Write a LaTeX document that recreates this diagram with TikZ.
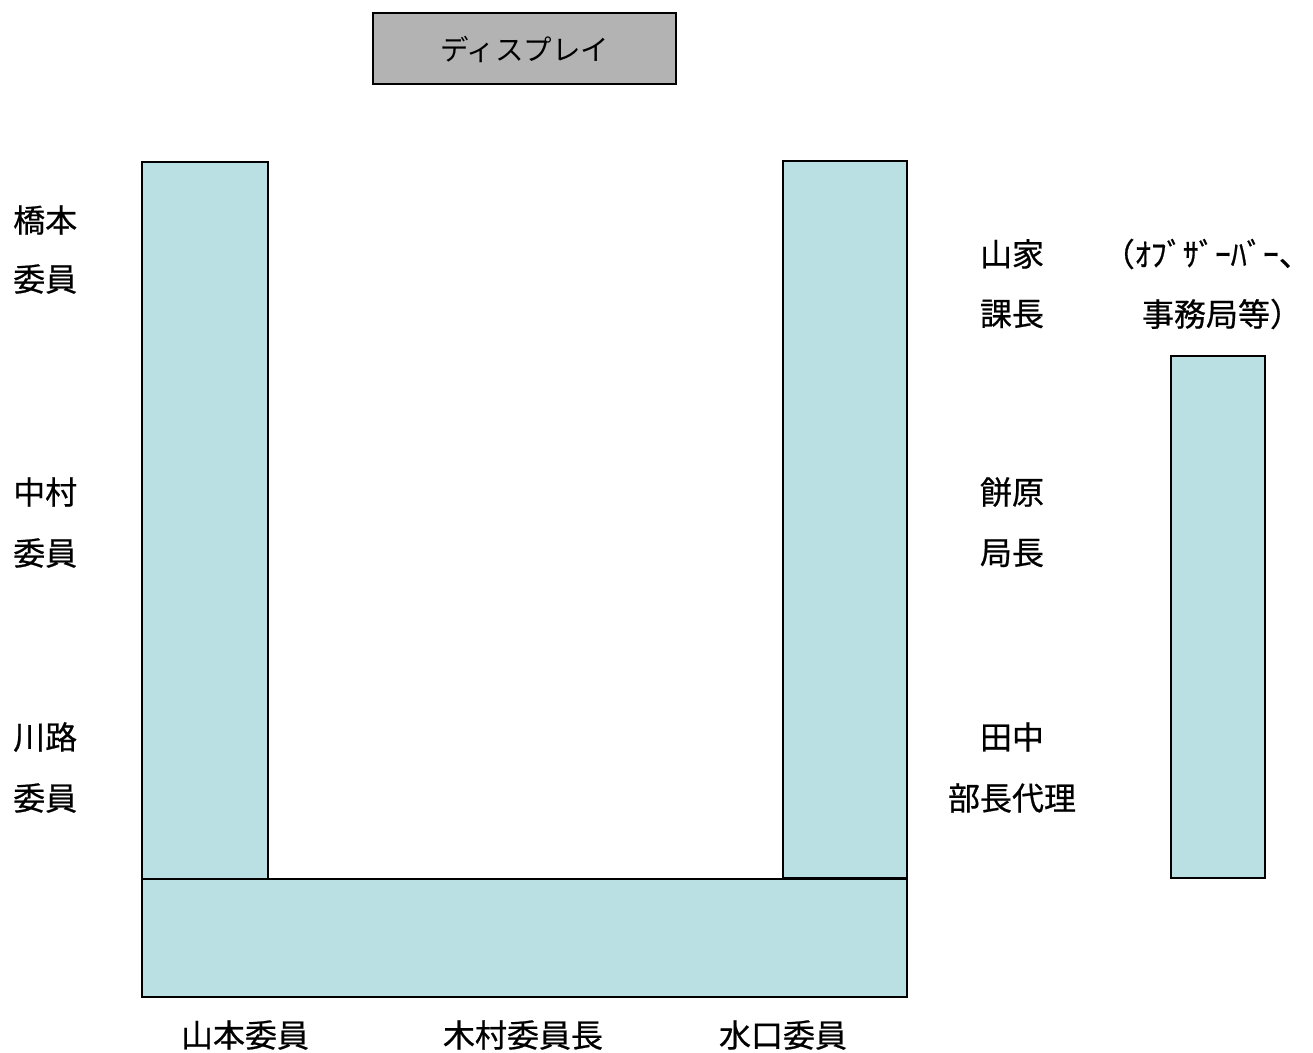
\documentclass[tikz,border=0pt]{standalone}
\usepackage{fontspec}
\setmainfont{Noto Sans CJK JP}[FakeBold=0.6]
\newfontfamily\dispfont{Noto Sans CJK JP}
\definecolor{seat}{HTML}{BAE0E3}
\definecolor{disp}{HTML}{B3B3B3}
\begin{document}
\begin{tikzpicture}[x=1pt,y=-1pt,
  box/.style={draw=black,line width=1.6pt,fill=seat,inner sep=0pt,outer sep=0pt},
  lbl/.style={font=\fontsize{32}{36}\selectfont,inner sep=0pt},
  ]
\useasboundingbox (0,0) rectangle (1313,1052);
\node[box,fill=disp,minimum width=303pt,minimum height=71pt] (display) at (524.5,48.5) {};
\node[inner sep=0pt,font=\dispfont\fontsize{28.5}{32}\selectfont] (disptext) at (524.5,49) {ディスプレイ};
\node[box,minimum width=126pt,minimum height=717pt] (leftcol) at (205,520.5) {};
\node[box,minimum width=124pt,minimum height=717pt] (rightcol) at (845,519.5) {};
\node[box,minimum width=765pt,minimum height=118pt] (bottom) at (524.5,938) {};
\node[box,minimum width=94pt,minimum height=522pt] (obs) at (1218,617) {};
% left labels
\node[lbl,anchor=west] (l1a) at (13,220) {橋本};
\node[lbl,anchor=west] (l1b) at (13,279) {委員};
\node[lbl,anchor=west] (l2a) at (13,492) {中村};
\node[lbl,anchor=west] (l2b) at (13,553) {委員};
\node[lbl,anchor=west] (l3a) at (13,737) {川路};
\node[lbl,anchor=west] (l3b) at (13,798) {委員};
% right labels
\node[lbl] (r1a) at (1012,254) {山家};
\node[lbl] (r1b) at (1012,314) {課長};
\node[lbl] (r2a) at (1012,492) {餅原};
\node[lbl] (r2b) at (1012,553) {局長};
\node[lbl] (r3a) at (1012,737) {田中};
\node[lbl] (r3b) at (1012,798) {部長代理};
% observer
\node[lbl,anchor=east] (o1) at (1311,254) {（ｵﾌﾞｻﾞｰﾊﾞｰ、};
\node[lbl] (o2) at (1222,314) {事務局等）};
% bottom labels
\node[lbl] (b1) at (245,1035) {山本委員};
\node[lbl] (b2) at (523,1035) {木村委員長};
\node[lbl] (b3) at (783,1035) {水口委員};
\end{tikzpicture}
\end{document}
